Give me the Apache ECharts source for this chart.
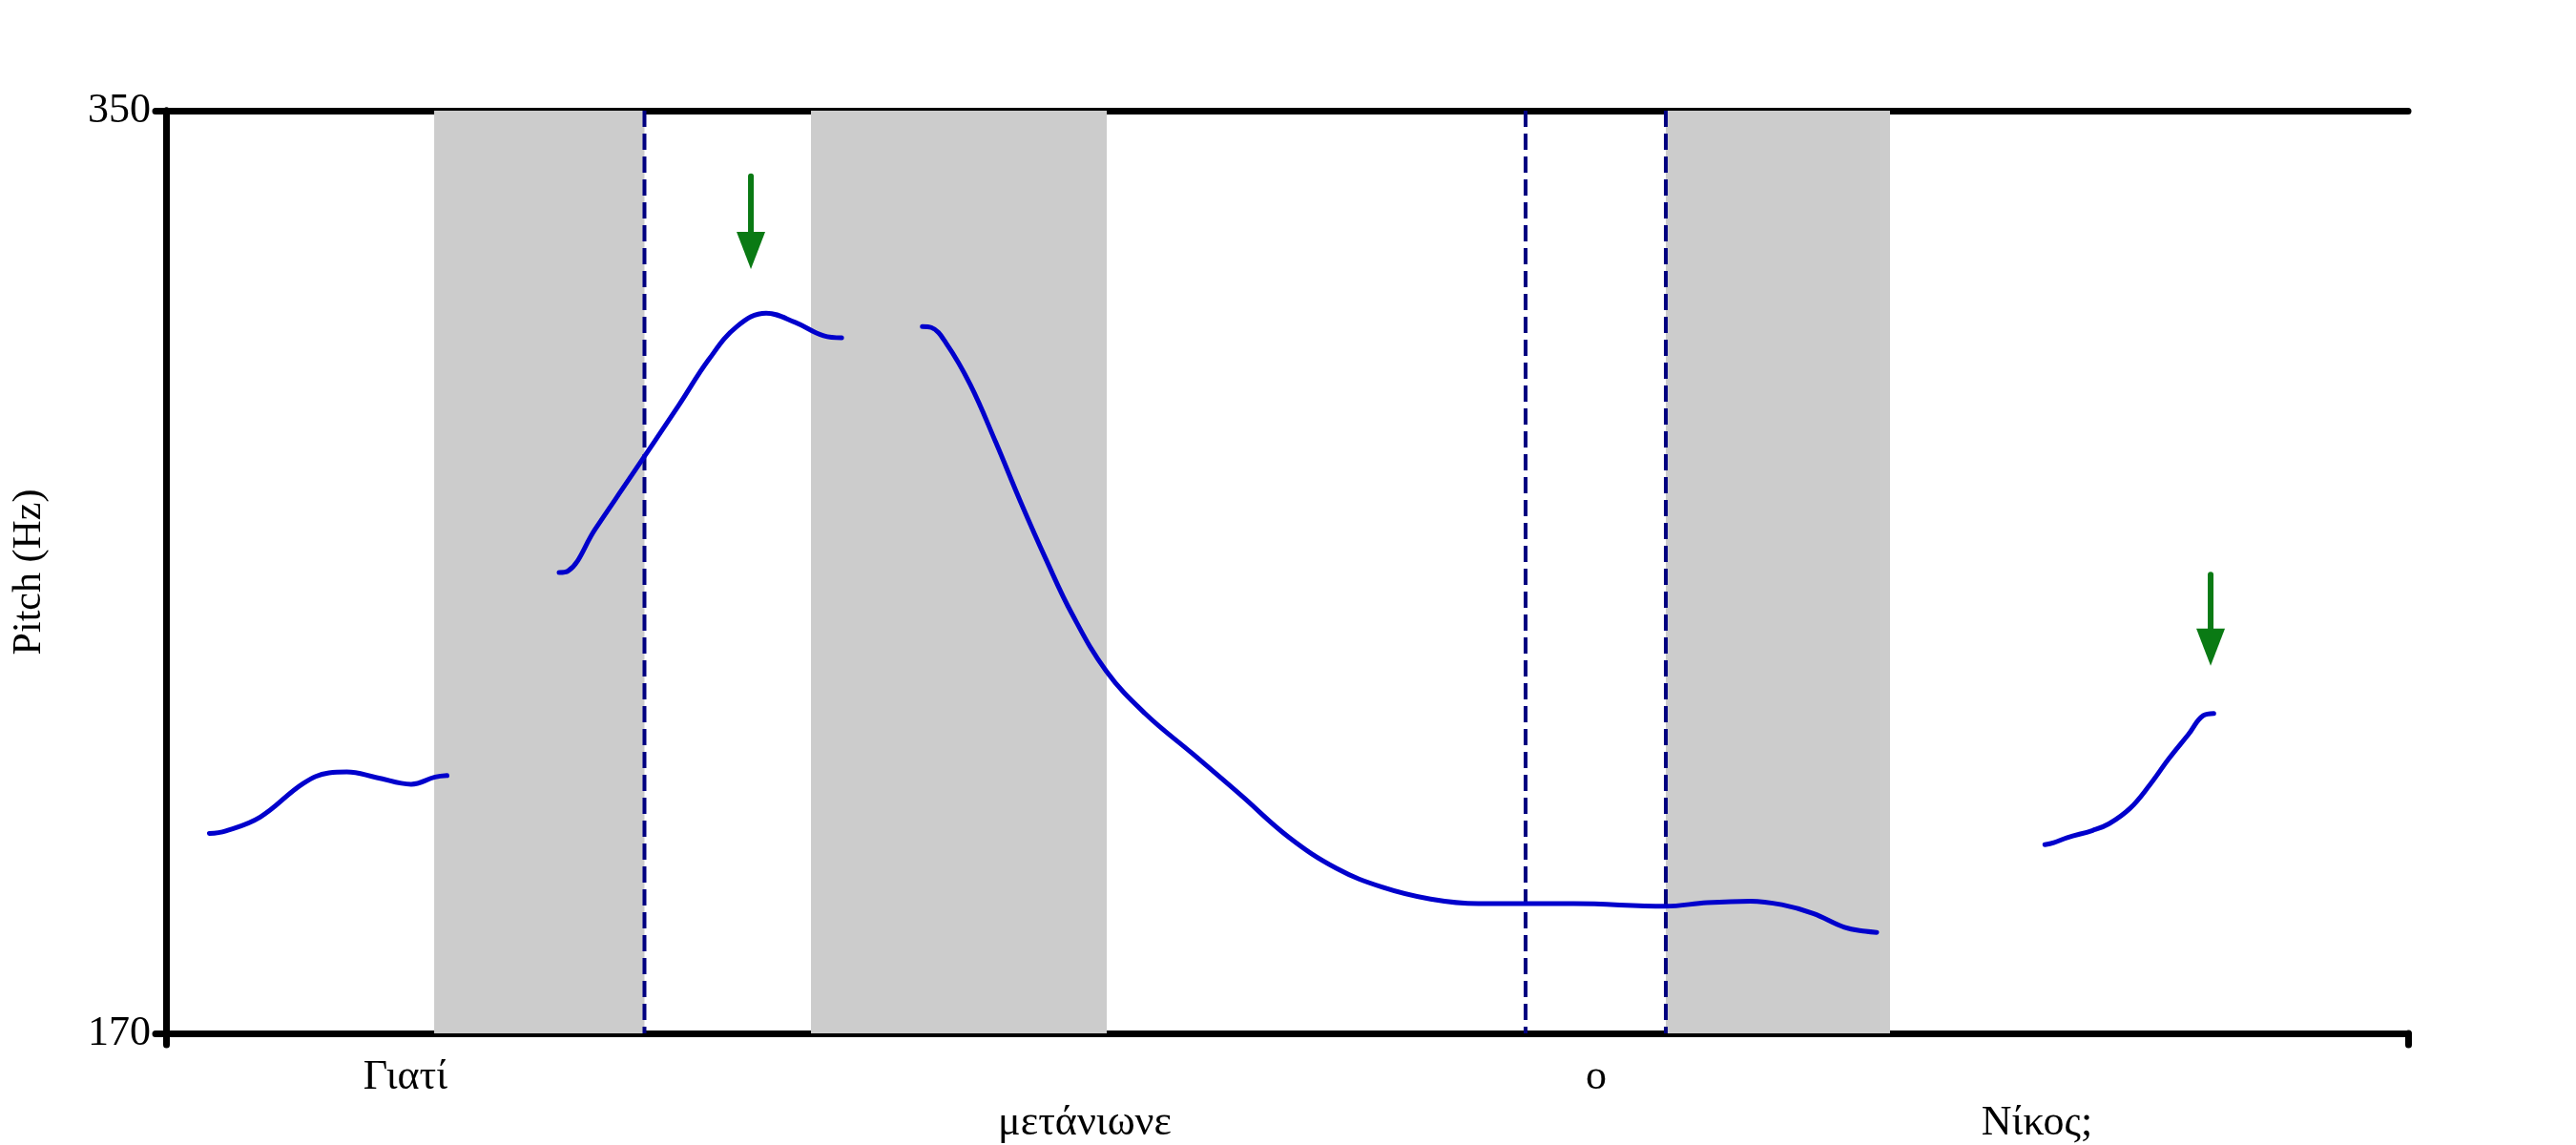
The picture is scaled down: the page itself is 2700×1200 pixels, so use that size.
<!DOCTYPE html>
<html>
<head>
<meta charset="utf-8">
<script src="https://cdn.jsdelivr.net/npm/echarts@6/dist/echarts.min.js"></script>
<style>
html,body{margin:0;padding:0;background:#fff;}
#chart{width:2700px;height:1200px;}
</style>
</head>
<body>
<div id="chart"></div>
<script>
// time in ms, pitch in Hz
var seg1 = [[29,209],[40,209.5],[63,212.2],[92,218.8],[109,220.8],[121,221],[141,219.9],[164,218.6],[180,220],[188,220.3]];
var seg2 = [[263,259.9],[269,260.2],[287,268.3],[310,278.2],[343,292.5],[363,301.4],[382,307.9],[401.5,310.5],[421,308.7],[440,306.1],[452,305.7]];
var seg3 = [[506,307.9],[512,307.7],[522,304.6],[538,296.6],[555,285.4],[572,273.5],[589,262.3],[606,251.9],[629,240.7],[655,232.4],[687,224.5],[719,216.5],[751,208.3],[783,202.2],[814,198.5],[846,196.2],[878,195.3],[942,195.3],[1003,194.8],[1031,195.5],[1060,195.8],[1081,195.1],[1102,193.4],[1123,190.7],[1137,189.9],[1144.5,189.7]];
var seg4 = [[1257,206.8],[1263,207.2],[1272,208.2],[1289,209.6],[1300,210.9],[1314,213.9],[1327,218.4],[1340,223.6],[1353,228.3],[1363,232],[1370,232.4]];

var bandStart = [179.4, 431.5, 1003.4];
var bandEnd   = [320.1, 629.4, 1153.4];
var boundaries = [320.1, 909.6, 1003.4];

var arrowX   = [391.3, 1367.9];
var arrowTop = [337.2, 259.5];
var arrowTip = [319.1, 241.7];

var words     = ['Γιατί', 'μετάνιωνε', 'ο', 'Νίκος;'];
var wordTimes = [160.2, 614.7, 956.8, 1251.7];
var wordRow   = [0, 1, 0, 1];

var yTicks = [170, 350];
var timeMin = 0, timeMax = 1500;
var pitchMin = 170, pitchMax = 350;

var FONT = '"Liberation Serif", "Times New Roman", serif';
var CURVE = '#0000cc';
var DASH = '#000080';
var GREEN = '#0a7a14';

var chart = echarts.init(document.getElementById('chart'), null, {renderer: 'canvas'});

function zip2(a, b) { return a.map(function (v, i) { return [v, b[i]]; }); }

function curve(data) {
  return {type: 'line', data: data, smooth: 0.4, showSymbol: false, z: 3,
          lineStyle: {color: CURVE, width: 5, cap: 'round', join: 'round'}};
}

var option = {
  animation: false,
  backgroundColor: '#ffffff',
  grid: {left: 174, right: 176, top: 116, bottom: 117},
  xAxis: [{
    type: 'value', min: timeMin, max: timeMax, interval: timeMax - timeMin,
    axisLine: {lineStyle: {color: '#000', width: 7, cap: 'round'}},
    axisTick: {show: true, length: 12, lineStyle: {color: '#000', width: 7, cap: 'round'}},
    axisLabel: {show: false},
    splitLine: {show: false}
  }, {
    type: 'value', position: 'top', min: timeMin, max: timeMax,
    axisLine: {lineStyle: {color: '#000', width: 7}},
    axisTick: {show: false}, axisLabel: {show: false}, splitLine: {show: false}
  }],
  yAxis: [{
    type: 'value', min: pitchMin, max: pitchMax,
    name: 'Pitch (Hz)', nameLocation: 'middle', nameGap: 122,
    nameTextStyle: {fontFamily: FONT, fontSize: 42, color: '#000'},
    axisLine: {lineStyle: {color: '#000', width: 7, cap: 'round'}},
    axisTick: {show: true, length: 11, customValues: yTicks, lineStyle: {color: '#000', width: 7, cap: 'round'}},
    axisLabel: {customValues: yTicks, margin: 16, fontFamily: FONT, fontSize: 44, color: '#000'},
    splitLine: {show: false}
  }, {
    type: 'value', position: 'right', min: pitchMin, max: pitchMax,
    axisLine: {show: true, lineStyle: {color: '#000', width: 7}},
    axisTick: {show: false}, axisLabel: {show: false}, splitLine: {show: false}
  }],
  series: [
    {
      type: 'custom', name: 'bands', z: 1,
      data: zip2(bandStart, bandEnd),
      renderItem: function (params, api) {
        var p1 = api.coord([api.value(0), pitchMax]);
        var p2 = api.coord([api.value(1), pitchMin]);
        return {type: 'rect', shape: {x: p1[0], y: p1[1], width: p2[0] - p1[0], height: p2[1] - p1[1]}, style: {fill: '#cccccc'}};
      }
    },
    {
      type: 'custom', name: 'boundaries', z: 2,
      data: boundaries.map(function (v) { return [v]; }),
      renderItem: function (params, api) {
        var p1 = api.coord([api.value(0), pitchMax]);
        var p2 = api.coord([api.value(0), pitchMin]);
        return {type: 'line', shape: {x1: p1[0], y1: p1[1], x2: p2[0], y2: p2[1]}, style: {stroke: DASH, lineWidth: 4, lineDash: [17, 7]}};
      }
    },
    curve(seg1), curve(seg2), curve(seg3), curve(seg4),
    {
      type: 'custom', name: 'arrows', z: 4,
      data: arrowX.map(function (x, i) { return [x, arrowTop[i], arrowTip[i]]; }),
      renderItem: function (params, api) {
        var p1 = api.coord([api.value(0), api.value(1)]);
        var p2 = api.coord([api.value(0), api.value(2)]);
        var headLen = 39, half = 15;
        return {type: 'group', children: [
          {type: 'line', shape: {x1: p1[0], y1: p1[1], x2: p2[0], y2: p2[1] - headLen + 4}, style: {stroke: GREEN, lineWidth: 6, lineCap: 'round'}},
          {type: 'polygon', shape: {points: [[p2[0] - half, p2[1] - headLen], [p2[0] + half, p2[1] - headLen], [p2[0], p2[1]]]}, style: {fill: GREEN}}
        ]};
      }
    },
    {
      type: 'custom', name: 'words', z: 5, clip: false,
      data: wordTimes.map(function (t, i) { return [t, wordRow[i], i]; }),
      renderItem: function (params, api) {
        var p = api.coord([api.value(0), pitchMin]);
        var row = api.value(1);
        return {type: 'text', style: {
          text: words[api.value(2)], x: p[0], y: p[1] + (row ? 94 : 46),
          align: 'center', verticalAlign: 'middle',
          font: '44px ' + FONT, fill: '#000'
        }};
      }
    }
  ]
};
chart.setOption(option);
</script>
</body>
</html>
